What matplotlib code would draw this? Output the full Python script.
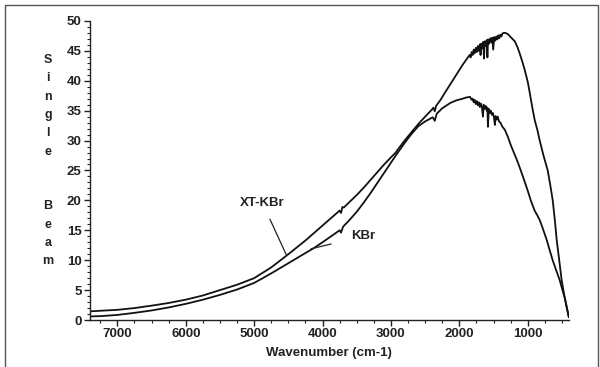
import matplotlib
matplotlib.use("Agg")
import matplotlib.pyplot as plt
from matplotlib.ticker import MultipleLocator
from matplotlib.lines import Line2D

# XT-KBr single beam (upper curve), wavenumber descending
xt_wn = [7400, 7250, 7000, 6750, 6500, 6250, 6000, 5750, 5500, 5250, 5000,
         4750, 4500, 4250, 4000, 3850, 3750, 3730, 3710, 3690, 3600, 3500,
         3400, 3300, 3200, 3100, 3000, 2930, 2900, 2800, 2700, 2590, 2500,
         2400, 2380, 2360, 2340, 2275, 2200, 2100, 2000, 1950, 1900,
         1850, 1835, 1820, 1805, 1790, 1775, 1760, 1745, 1730, 1715, 1700,
         1690, 1680, 1665, 1650, 1640, 1630, 1615, 1600, 1590, 1580, 1565,
         1550, 1535, 1520, 1505, 1490, 1475, 1460, 1445, 1430, 1415, 1400,
         1385, 1370, 1350, 1330, 1290, 1250, 1190, 1150, 1116, 1080, 1044,
         1000, 971, 930, 898, 860, 825, 770, 708, 670, 635, 605, 577, 540,
         505, 470, 433, 400]
xt_val = [1.45, 1.55, 1.7, 2.0, 2.4, 2.85, 3.4, 4.1, 5.0, 5.9, 7.0,
          8.8, 11.0, 13.3, 15.8, 17.3, 18.3, 17.9, 18.9, 18.8, 19.8, 20.9,
          22.1, 23.4, 24.7, 26.0, 27.2, 28.0, 28.5, 30.0, 31.4, 32.9, 34.0,
          35.2, 35.5, 34.9, 35.8, 36.8, 38.2, 40.0, 41.8, 42.7, 43.5,
          44.3, 43.9, 44.8, 44.3, 45.2, 44.6, 45.5, 44.8, 45.8, 45.0, 46.1,
          44.3, 46.2, 45.4, 46.5, 43.7, 46.6, 45.8, 46.8, 43.9, 46.9, 46.2,
          47.1, 46.4, 47.2, 45.2, 47.3, 46.7, 47.4, 46.9, 47.6, 47.1, 47.7,
          47.4, 47.9, 48.0, 48.0, 47.8, 47.3, 46.6, 45.6, 44.5, 43.2, 41.8,
          39.8, 38.0, 35.3, 33.4, 31.8, 30.0, 27.5, 25.0, 22.5, 20.0, 16.8,
          13.4, 10.0, 6.7, 4.4, 2.2, 0.5]

# KBr single beam (lower curve)
kbr_wn = [7400, 7250, 7000, 6750, 6500, 6250, 6000, 5750, 5500, 5250, 5000,
          4750, 4500, 4250, 4130, 4000, 3900, 3800, 3750, 3730, 3700, 3600,
          3500, 3400, 3300, 3200, 3100, 3000, 2930, 2800, 2700, 2600, 2500,
          2420, 2390, 2360, 2330, 2250, 2130, 2050, 1950, 1900,
          1844, 1820, 1805, 1790, 1775, 1760, 1745, 1730, 1715, 1700, 1685,
          1670, 1655, 1645, 1630, 1615, 1600, 1590, 1582, 1570, 1555, 1540,
          1525, 1510, 1495, 1480, 1470, 1455, 1440, 1420, 1400, 1370, 1335,
          1290, 1247, 1200, 1150, 1102, 1050, 1000, 956, 900, 860, 825, 780,
          723, 680, 636, 590, 534, 500, 462, 430, 400]
kbr_val = [0.6, 0.65, 0.85, 1.2, 1.6, 2.1, 2.7, 3.4, 4.2, 5.1, 6.2,
           7.8, 9.5, 11.2, 12.0, 13.0, 13.8, 14.6, 15.0, 14.6, 15.6, 16.8,
           18.1, 19.6, 21.2, 22.9, 24.6, 26.3, 27.5, 29.6, 31.1, 32.4, 33.2,
           33.7, 33.9, 33.3, 34.5, 35.4, 36.3, 36.7, 37.0, 37.2,
           37.3, 36.8, 37.0, 36.4, 36.8, 36.1, 36.6, 35.9, 36.4, 35.6, 36.2,
           35.5, 34.0, 36.0, 35.3, 35.8, 35.0, 35.5, 32.3, 35.3, 34.6, 35.0,
           34.3, 34.6, 33.9, 32.6, 34.1, 33.5, 34.0, 33.2, 33.0, 32.3, 31.8,
           30.6, 29.2, 27.9, 26.5, 25.0, 23.3, 21.6, 20.0, 18.3, 17.5, 16.7,
           15.3, 13.4, 11.7, 10.0, 8.5, 6.7, 5.3, 3.8, 2.2, 0.5]

fig = plt.figure(figsize=(6.0, 3.67), dpi=100)
ax = fig.add_axes([0.15, 0.128, 0.798, 0.815])

ax.plot(xt_wn, xt_val, color="#111111", lw=1.3)
ax.plot(kbr_wn, kbr_val, color="#111111", lw=1.3)

ax.set_xlim(7400, 400)
ax.set_ylim(0, 50)
ax.xaxis.set_major_locator(MultipleLocator(1000))
ax.xaxis.set_minor_locator(MultipleLocator(250))
ax.yaxis.set_major_locator(MultipleLocator(5))
ax.yaxis.set_minor_locator(MultipleLocator(1))

for s in ["top", "right"]:
    ax.spines[s].set_visible(False)
for s in ["left", "bottom"]:
    ax.spines[s].set_linewidth(1.0)
    ax.spines[s].set_color("#222222")

ax.tick_params(which="major", length=4, width=1, color="#222222",
               labelsize=9.5, pad=2)
ax.tick_params(which="minor", length=2.5, width=0.8, color="#222222")
for lab in ax.get_xticklabels() + ax.get_yticklabels():
    lab.set_fontweight("bold")
    lab.set_family("Liberation Sans")
    lab.set_color("#222222")

ax.set_xlabel("Wavenumber (cm-1)", fontsize=9.5, fontweight="bold",
              family="Liberation Sans", color="#222222", labelpad=5)

fig.text(0.08, 0.562, "S\ni\nn\ng\nl\ne\n\n\nB\ne\na\nm", ha="center",
         va="center", fontsize=9, fontweight="bold",
         family="Liberation Sans", color="#222222", linespacing=1.7)

# curve labels with leader lines
ax.annotate("XT-KBr", xy=(4530, 10.9), xytext=(4880, 19.6),
            fontsize=9.5, fontweight="bold", family="Liberation Sans",
            ha="center", va="center", color="#222222",
            arrowprops=dict(arrowstyle="-", color="#222222", lw=0.9,
                            shrinkA=6, shrinkB=0))
ax.annotate("KBr", xy=(4170, 11.9), xytext=(3400, 14.0),
            fontsize=9.5, fontweight="bold", family="Liberation Sans",
            ha="center", va="center", color="#222222",
            arrowprops=dict(arrowstyle="-", color="#222222", lw=0.9,
                            shrinkA=13, shrinkB=0))

# outer frame
W, H = 600, 367
fx = [5 / W, 5 / W, 598 / W, 598 / W]
fy = [0, 1 - 5 / H, 1 - 5 / H, 0]
fig.add_artist(Line2D(fx, fy, transform=fig.transFigure, color="#555555",
                      lw=1.0))

fig.savefig("out.png", dpi=100)
